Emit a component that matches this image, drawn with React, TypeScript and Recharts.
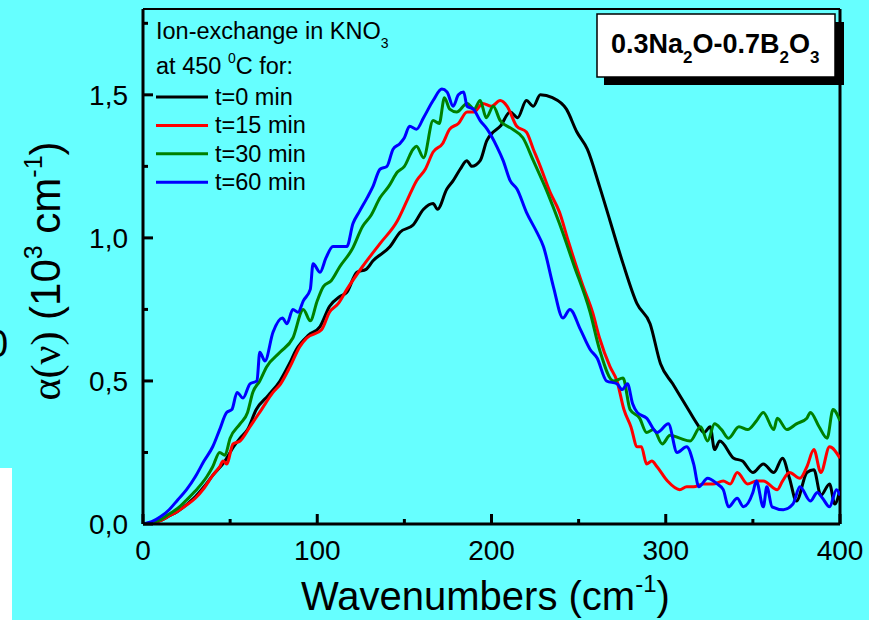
import React from 'react';
import { LineChart, Line, XAxis, YAxis, Legend, ReferenceLine } from 'recharts';

// [wavenumber (cm^-1), alpha (10^3 cm^-1)]
const t0 = [
  [0,0],[5,0.004],[10,0.012],[15,0.028],[20,0.045],[25,0.068],[30,0.095],[35,0.13],[40,0.17],[47,0.22],
  [52,0.27],[55.7,0.30],[60,0.33],[65,0.40],[72,0.45],[78.6,0.50],[84,0.56],[88,0.61],[95,0.66],[101.6,0.69],
  [107,0.76],[113,0.795],[117,0.81],[122.7,0.88],[128,0.89],[132,0.92],[141.8,0.97],[147.5,1.02],[155,1.045],[161,1.10],
  [166.5,1.12],[169,1.10],[174.3,1.17],[178,1.20],[182,1.24],[185.8,1.27],[188.7,1.25],[193.5,1.27],[197.3,1.34],[201,1.37],
  [205,1.39],[210.7,1.44],[215,1.42],[220,1.48],[224,1.46],[228,1.50],[235,1.49],[243,1.45],[249,1.37],[255,1.31],
  [262,1.18],[268,1.06],[275.5,0.91],[283.5,0.77],[291,0.70],[297,0.56],[304,0.49],[312,0.41],[318,0.35],[322,0.32],
  [325.5,0.34],[328,0.26],[331,0.29],[339,0.23],[344,0.22],[350,0.18],[356,0.21],[362,0.18],[367,0.23],[371,0.16],
  [375,0.08],[381,0.18],[385,0.19],[389,0.10],[394,0.14],[397,0.07],[400,0.12]
];

const t15 = [
  [0,0],[5,0.004],[10,0.012],[15,0.028],[20,0.045],[25,0.066],[30,0.09],[35,0.125],[40,0.17],[44,0.20],
  [46,0.22],[48,0.21],[51.7,0.28],[55.7,0.29],[61.4,0.34],[68,0.40],[74.6,0.46],[79,0.49],[84.4,0.55],[90,0.62],
  [94,0.65],[102.6,0.68],[107,0.74],[112,0.77],[117,0.82],[126,0.90],[136,0.98],[146,1.06],[151.5,1.13],[157,1.20],
  [162,1.24],[166.5,1.30],[172,1.33],[176,1.38],[181,1.40],[186,1.44],[190,1.44],[195,1.47],[200,1.46],[205,1.48],
  [209,1.46],[214.5,1.39],[220,1.37],[224,1.31],[228,1.25],[233.6,1.16],[239,1.09],[244,0.99],[252.6,0.83],[258,0.74],
  [262,0.65],[268,0.55],[272,0.50],[276,0.40],[280,0.34],[283.6,0.27],[286,0.27],[289,0.21],[292,0.22],[295,0.20],
  [301,0.15],[308,0.12],[312,0.13],[316,0.13],[321.5,0.14],[327,0.14],[333,0.15],[337,0.14],[341,0.18],[347,0.14],
  [352,0.15],[356,0.15],[364,0.12],[367,0.15],[371,0.18],[377,0.16],[381,0.20],[385,0.26],[389,0.18],[394,0.27],
  [400,0.23]
];

const t30 = [
  [0,0],[5,0.005],[10,0.015],[15,0.035],[20,0.055],[25,0.084],[30,0.115],[36.6,0.165],[40,0.20],[44,0.25],
  [47,0.24],[50,0.30],[55.7,0.35],[60,0.39],[63,0.46],[67,0.50],[71,0.55],[78.6,0.60],[86,0.65],[92,0.75],
  [96,0.71],[100,0.78],[103.5,0.83],[108,0.85],[113,0.90],[120,0.96],[126,1.04],[131,1.08],[136,1.14],[141,1.18],
  [146,1.23],[150,1.25],[155,1.31],[157,1.32],[161,1.28],[166.5,1.41],[170,1.40],[173,1.49],[176,1.45],[180,1.44],
  [186,1.47],[190,1.45],[193.5,1.48],[197,1.42],[201,1.46],[205,1.41],[212,1.38],[218,1.35],[224,1.27],[232,1.16],
  [239,1.05],[247,0.91],[256.6,0.74],[262,0.61],[270,0.50],[275.5,0.51],[279.5,0.40],[285,0.37],[289,0.32],[293,0.33],
  [298,0.28],[302.5,0.31],[308,0.30],[314,0.29],[320,0.34],[324,0.29],[328,0.35],[332,0.33],[336,0.30],[342,0.34],
  [347,0.33],[352,0.36],[356,0.39],[362,0.33],[364,0.37],[369.5,0.33],[375,0.35],[381,0.37],[383,0.39],[388,0.34],
  [392.6,0.30],[396,0.40],[400,0.36]
];

const t60 = [
  [0,0],[5,0.008],[10,0.025],[15,0.05],[20,0.085],[25,0.12],[30,0.165],[35,0.22],[40,0.27],[44,0.33],
  [48,0.39],[51,0.40],[54,0.46],[57.4,0.44],[61.4,0.49],[65.4,0.50],[67,0.60],[70,0.57],[74.6,0.67],[80,0.72],
  [82.6,0.70],[86,0.75],[89,0.74],[92,0.78],[96,0.82],[97.6,0.91],[101.6,0.88],[105,0.93],[109,0.97],[117,0.97],
  [120.5,1.05],[124,1.09],[128.6,1.14],[132,1.18],[136,1.24],[140,1.25],[143.5,1.31],[147.5,1.33],[150,1.35],[153,1.39],
  [157,1.38],[161,1.42],[166.5,1.48],[171.5,1.52],[174.5,1.51],[178,1.46],[181,1.50],[184,1.51],[186,1.46],[189.6,1.45],
  [193.5,1.41],[197.5,1.38],[203,1.32],[206.7,1.27],[210.7,1.20],[214.7,1.17],[220,1.09],[226,1.02],[229.8,0.97],[235.5,0.83],
  [241,0.72],[245,0.75],[251,0.68],[256.6,0.61],[260.6,0.58],[266,0.50],[272,0.49],[275,0.47],[278,0.49],[281,0.42],
  [283.6,0.39],[289,0.37],[295,0.32],[301.5,0.35],[306.5,0.25],[312,0.27],[316,0.21],[319,0.13],[324,0.16],[329.5,0.14],
  [333,0.12],[336,0.06],[341,0.09],[344.6,0.06],[350,0.11],[352,0.15],[356,0.06],[358,0.13],[361,0.06],[367.5,0.05],
  [373,0.07],[377,0.13],[383,0.08],[387,0.11],[390,0.09],[394,0.06],[398,0.12],[400,0.10]
];

const seriesNames = ['t=0 min', 't=15 min', 't=30 min', 't=60 min'];
const seriesColors = ['#000000', '#FF0000', '#008000', '#0000FF'];
const seriesData = [t0, t15, t30, t60];

const xTicks = [0, 50, 100, 150, 200, 250, 300, 350, 400];
const xLabelTicks = [0, 100, 200, 300, 400];
const yTicks = [0, 0.25, 0.5, 0.75, 1.0, 1.25, 1.5, 1.75];
const yLabelTicks = [0, 0.5, 1.0, 1.5];

const SANS = "'Liberation Sans', Arial, Helvetica, sans-serif";
const SERIF = "'Liberation Serif', 'Times New Roman', serif";
const BG = '#66FFFF';

const toRows = (pairs: number[][]) => pairs.map(([x, y]) => ({ x, y }));

const BottomTick = (props: any) => {
  const { x, y, payload } = props;
  const v = payload.value;
  const major = xLabelTicks.includes(v);
  return (
    <g>
      <line x1={x} x2={x} y1={y} y2={y - (major ? 10 : 5)} stroke="#000" strokeWidth={3} />
      {major && (
        <text x={x} y={y + 36} textAnchor="middle" fontFamily={SANS} fontSize={28} fill="#000">
          {v}
        </text>
      )}
    </g>
  );
};

const TopTick = (props: any) => {
  const { x, y } = props;
  return <line x1={x} x2={x} y1={y} y2={y + 3} stroke="#000" strokeWidth={1.5} />;
};

const LeftTick = (props: any) => {
  const { x, y, payload } = props;
  const v = payload.value;
  const major = yLabelTicks.some((t) => Math.abs(t - v) < 1e-6);
  return (
    <g>
      <line x1={x} x2={x + (major ? 10 : 5)} y1={y} y2={y} stroke="#000" strokeWidth={3} />
      {major && (
        <text x={x - 15} y={y + 10} textAnchor="end" fontFamily={SANS} fontSize={28} fill="#000">
          {v.toFixed(1).replace('.', ',')}
        </text>
      )}
    </g>
  );
};

const LegendContent = (props: any) => {
  const payload = props.payload || [];
  return (
    <svg width={420} height={200} style={{ overflow: 'visible', display: 'block' }}>
      <text x={156} y={39} fontFamily={SANS} fontSize={23.5} fill="#000">
        Ion-exchange in KNO<tspan fontSize={14} dy={9}>3</tspan>
      </text>
      <text x={156} y={74} fontFamily={SANS} fontSize={23.5} fill="#000">
        at 450 <tspan fontSize={14} dy={-11}>0</tspan><tspan dy={11}>C for:</tspan>
      </text>
      {payload.map((p: any, i: number) => {
        const ly = 97 + i * 28.4;
        return (
          <g key={i}>
            <line x1={156} x2={208} y1={ly} y2={ly} stroke={p.color} strokeWidth={3} />
            <text x={215} y={ly + 8} fontFamily={SANS} fontSize={23.5} fill="#000">{p.value}</text>
          </g>
        );
      })}
    </svg>
  );
};

export default function App() {
  return (
    <div style={{ position: 'absolute', left: 0, top: 0, width: 869, height: 620, background: BG, overflow: 'hidden' }}>
      <LineChart width={869} height={620} margin={{ top: 9, right: 29, bottom: 0, left: 0 }}>
        <XAxis
          dataKey="x"
          type="number"
          domain={[0, 400]}
          ticks={xTicks}
          height={96}
          tickSize={0}
          tickMargin={0}
          axisLine={{ stroke: '#000', strokeWidth: 3 }}
          tickLine={false}
          tick={<BottomTick />}
          interval={0}
          allowDataOverflow
        />
        <XAxis
          xAxisId="top"
          orientation="top"
          dataKey="x"
          type="number"
          domain={[0, 400]}
          ticks={xTicks}
          height={0}
          tickSize={0}
          tickMargin={0}
          axisLine={{ stroke: '#000', strokeWidth: 2 }}
          tickLine={false}
          tick={<TopTick />}
          interval={0}
        />
        <YAxis
          type="number"
          domain={[0, 1.8]}
          ticks={yTicks}
          width={143}
          tickSize={0}
          tickMargin={0}
          axisLine={{ stroke: '#000', strokeWidth: 3 }}
          tickLine={false}
          tick={<LeftTick />}
          interval={0}
          allowDataOverflow
        />
        <YAxis
          yAxisId="right"
          orientation="right"
          type="number"
          domain={[0, 1.8]}
          width={0}
          tick={false}
          tickLine={false}
          axisLine={{ stroke: '#000', strokeWidth: 3 }}
        />
        <ReferenceLine y={1.8} stroke="#000" strokeWidth={2} />
        <ReferenceLine x={400} stroke="#000" strokeWidth={3} />
        <Legend
          layout="vertical"
          align="center"
          verticalAlign="middle"
          content={<LegendContent />}
          wrapperStyle={{ position: 'absolute', left: 0, top: 0, width: 420, height: 200 }}
        />
        {seriesData.map((d, i) => (
          <Line
            key={seriesNames[i]}
            name={seriesNames[i]}
            data={toRows(d)}
            dataKey="y"
            type="monotone"
            stroke={seriesColors[i]}
            strokeWidth={3}
            dot={false}
            isAnimationActive={false}
          />
        ))}
      </LineChart>
      <svg
        width={869}
        height={620}
        style={{ position: 'absolute', left: 0, top: 0, pointerEvents: 'none' }}
      >
        <rect x={0} y={468} width={12} height={152} fill="#FFFFFF" />
        <text x={-13} y={357} fontFamily={SANS} fontSize={38} fill="#000">0</text>
        <rect x={604} y={22} width={240} height={63} fill="#000" />
        <rect x={597} y={14} width={238} height={63} fill="#FFFFFF" stroke="#000" strokeWidth={1.5} />
        <text x={611} y={53} fontFamily={SANS} fontSize={27} fontWeight="bold" fill="#000">
          0.3Na<tspan fontSize={17} dy={10}>2</tspan><tspan dy={-10}>O-0.7B</tspan><tspan fontSize={17} dy={10}>2</tspan><tspan dy={-10}>O</tspan><tspan fontSize={17} dy={10}>3</tspan>
        </text>
        <text x={301} y={610} fontFamily={SANS} fontSize={40} fill="#000">
          Wavenumbers (cm<tspan fontSize={24} dy={-18}>-1</tspan><tspan dy={18}>)</tspan>
        </text>
        <text
          x={60}
          y={271}
          transform="rotate(-90, 60, 271)"
          textAnchor="middle"
          fontFamily={SANS}
          fontSize={42}
          fill="#000"
        >
          <tspan fontFamily={SERIF}>α(ν)</tspan> (10<tspan fontSize={25} dy={-18}>3</tspan><tspan dy={18}> cm</tspan><tspan fontSize={25} dy={-18}>-1</tspan><tspan dy={18}>)</tspan>
        </text>
      </svg>
    </div>
  );
}
